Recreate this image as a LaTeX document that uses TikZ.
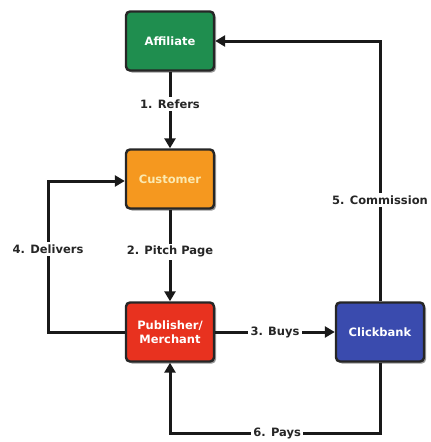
\documentclass[tikz,border=0pt]{standalone}
\usepackage{fontspec}
\setmainfont{DejaVu Sans}
\usetikzlibrary{shadows,arrows.meta}
\definecolor{affgreen}{HTML}{1F8E4F}
\definecolor{custorange}{HTML}{F5981F}
\definecolor{pubred}{HTML}{E8321F}
\definecolor{cbblue}{HTML}{3A4BAE}
\definecolor{custtext}{HTML}{FBE9B0}
\tikzset{
  box/.style={draw=black!85, line width=2.4pt, rounded corners=4pt, minimum width=88pt, minimum height=59pt,
    inner sep=0pt, align=center, font=\bfseries\fontsize{11.5}{14}\selectfont, text=white,
    drop shadow={shadow xshift=2pt, shadow yshift=-2pt, opacity=0.4, fill=black}},
  flow/.style={line width=3pt, draw=black!90, line join=miter, -{Triangle[length=10pt,width=11pt]}},
  lbl/.style={fill=white, inner sep=2.5pt, font=\bfseries\fontsize{11.5}{14}\selectfont, text=black!85}
}
\begin{document}
\begin{tikzpicture}[x=1pt,y=-1pt]
\useasboundingbox (0,0) rectangle (431,442);
\node[box, fill=affgreen] (aff) at (170,41) {Affiliate};
\node[box, fill=custorange, text=custtext] (cust) at (170,179) {Customer};
\node[box, fill=pubred] (pub) at (170,332) {Publisher/\\Merchant};
\node[box, fill=cbblue] (cb) at (380,332) {Clickbank};
\coordinate (dl) at (48,332);
\coordinate (dt) at (48,181);
\coordinate (ct) at (380,41);
\coordinate (pr) at (380,433);
\coordinate (pl) at (170,433);
\draw[flow] (aff) -- node[lbl, pos=0.42] {1. Refers} (cust);
\draw[flow] (cust) -- node[lbl, pos=0.46] {2. Pitch Page} (pub);
\draw[flow] (pub) -- node[lbl, pos=0.5] {3. Buys} (cb);
\draw[flow] (pub.west) -- (dl) -- node[lbl, pos=0.55] {4. Delivers} (dt) -- (cust.west |- dt);
\draw[flow] (cb.north) -- node[lbl, pos=0.39] {5. Commission} (ct) -- (aff.east |- ct);
\draw[flow] (cb.south) -- (pr) -- node[lbl, pos=0.49] {6. Pays} (pl) -- (pub.south);
\end{tikzpicture}
\end{document}
